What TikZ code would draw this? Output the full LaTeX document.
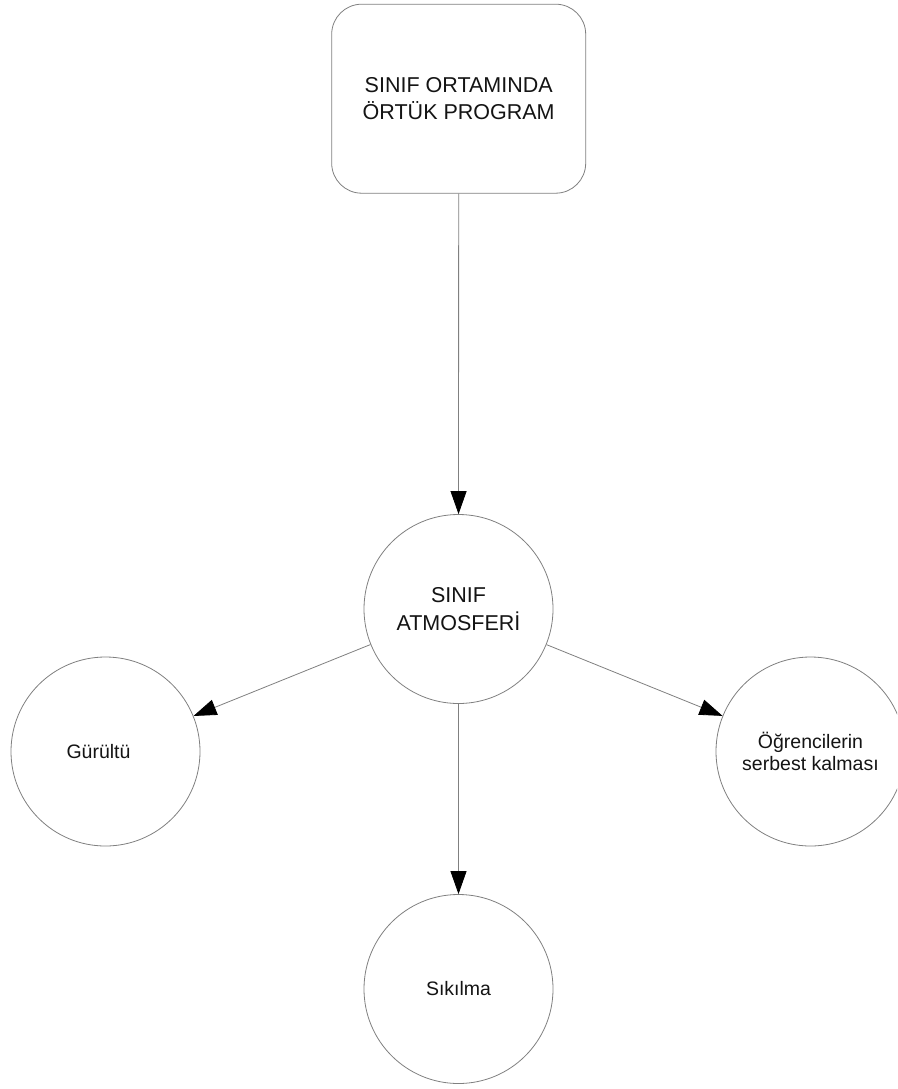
\documentclass[tikz,border=0pt]{standalone}
\usepackage{fontspec}
\setmainfont{Liberation Sans}
\usetikzlibrary{arrows.meta}
\definecolor{linegray}{RGB}{128,128,128}
\definecolor{txt}{RGB}{20,20,20}
\begin{document}
\begin{tikzpicture}[x=1pt,y=-1pt,
  box/.style={rectangle, rounded corners=30pt, draw=linegray, line width=0.8pt,
    minimum width=254pt, minimum height=189pt, inner sep=0pt, align=center,
    text=txt, font=\fontsize{21.5}{27}\selectfont},
  bigbubble/.style={circle, draw=linegray, line width=0.8pt, minimum size=189pt,
    inner sep=0pt, align=center, text=txt, font=\fontsize{21.5}{28}\selectfont},
  bubble/.style={circle, draw=linegray, line width=0.8pt, minimum size=189pt,
    inner sep=0pt, align=center, text=txt, font=\fontsize{19.5}{22}\selectfont},
  conn/.style={draw=linegray, line width=0.8pt,
    -{Triangle[length=23pt,width=16pt,color=black]}}
]
\useasboundingbox (0,0) rectangle (897,1089);
\clip (0,0) rectangle (897,1089);
\fill[white] (0,0) rectangle (897,1089);

\node[box] (top) at (458.7,98.7) {SINIF ORTAMINDA\\ÖRTÜK PROGRAM};
\node[bigbubble] (atm) at (458.5,609) {SINIF\\ATMOSFERİ};
\node[bubble] (gur) at (105.5,751.5) {Gürültü\hspace*{14pt}};
\node[bubble] (ogr) at (810.5,751.5) {Öğrencilerin\\serbest kalması};
\node[bubble] (sik) at (458.5,989) {Sıkılma};

\draw[conn] (top) -- (atm);
\draw[conn] (atm) -- (gur);
\draw[conn] (atm) -- (ogr);
\draw[conn] (atm) -- (sik);
\end{tikzpicture}
\end{document}
